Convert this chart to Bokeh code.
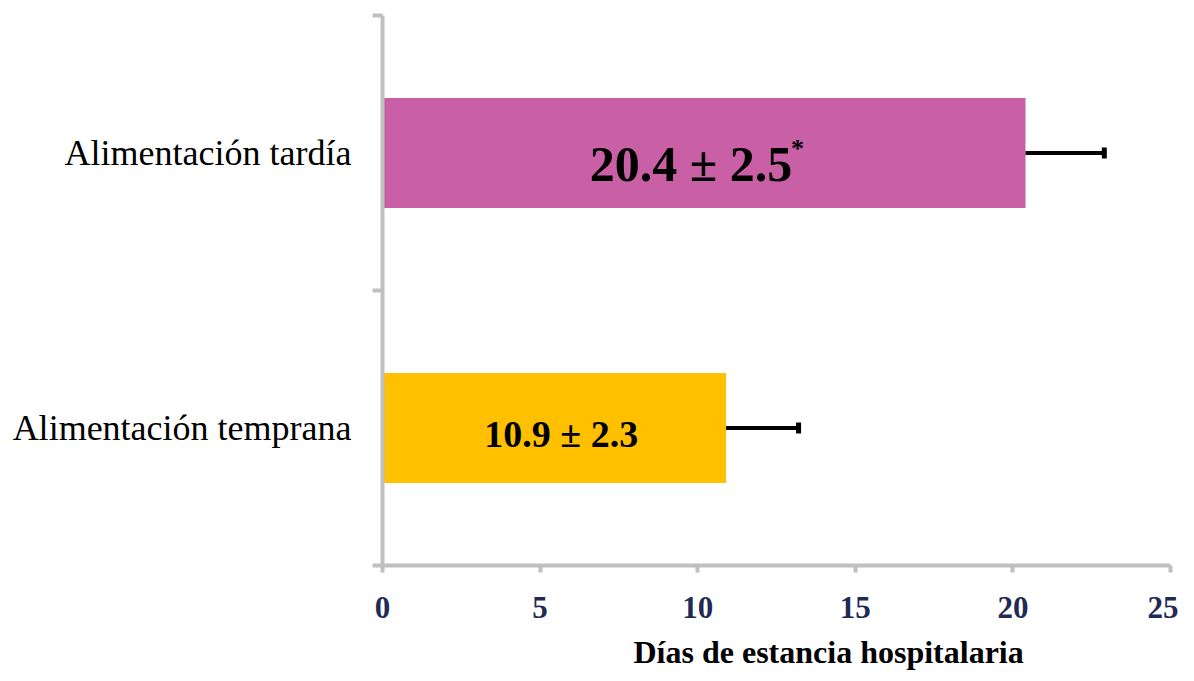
from bokeh.plotting import figure
from bokeh.models import Range1d, FixedTicker, Title, ColumnDataSource
from bokeh.core.properties import value
from bokeh.embed import file_html
from bokeh.resources import INLINE

# ---- data ----
categories = ["Alimentación temprana", "Alimentación tardía"]
means = [10.9, 20.4]
sds = [2.3, 2.5]
marks = ["", "*"]
x_ticks = [0, 5, 10, 15, 20, 25]
x_title = "Días de estancia hospitalaria"

# ---- styles ----
colors = ["#FFC000", "#C95FA5"]
label_sizes = ["38px", "50px"]
label_xoff = [7, -13]
label_yoff = [6, 11]
SERIF = "Liberation Serif"
GRAY = "#C0C0C0"

pos = [i + 0.5 for i in range(len(categories))]
src = ColumnDataSource(dict(
    y=pos, mean=means, sd=sds, end=[m + s for m, s in zip(means, sds)],
    mid=[m / 2 for m in means], color=colors,
    txt=[f"{m} ± {s}" for m, s in zip(means, sds)], mark=marks,
    size=label_sizes, xoff=label_xoff, yoff=label_yoff,
    cap0=[p - 0.02 for p in pos], cap1=[p + 0.02 for p in pos],
))

p = figure(width=1178, height=680, output_backend="svg", toolbar_location=None,
           x_range=Range1d(0, 25), y_range=Range1d(0, len(categories)),
           min_border_left=382, min_border_right=8, min_border_top=15,
           min_border_bottom=115)
p.outline_line_color = None
p.xgrid.visible = False
p.ygrid.visible = False

p.hbar(y="y", left=0, right="mean", height=0.4, color="color", source=src,
       line_color=None)
p.segment(x0="mean", y0="y", x1="end", y1="y", line_color="black",
          line_width=4, source=src)
p.segment(x0="end", y0="cap0", x1="end", y1="cap1", line_color="black",
          line_width=5, source=src)

p.text(x="mid", y="y", text="txt", text_font=value(SERIF), text_font_style="bold",
       text_font_size="size", text_align="center", text_baseline="middle",
       x_offset="xoff", y_offset="yoff", text_color="black", source=src)
p.text(x="mid", y="y", text="mark", text_font=value(SERIF), text_font_style="bold",
       text_font_size="26px", text_align="left", text_baseline="middle",
       x_offset=87, y_offset=-5, text_color="black", source=src)

# x axis
xa = p.xaxis[0]
xa.ticker = FixedTicker(ticks=x_ticks)
xa.axis_line_color = GRAY
xa.axis_line_width = 4
xa.major_tick_line_color = GRAY
xa.major_tick_line_width = 4
xa.major_tick_out = 7
xa.major_tick_in = 0
xa.minor_tick_line_color = None
xa.major_label_text_font = SERIF
xa.major_label_text_font_style = "bold"
xa.major_label_text_font_size = "31px"
xa.major_label_text_color = "#1F2A55"
xa.major_label_standoff = 24

# y axis
ya = p.yaxis[0]
ya.ticker = FixedTicker(ticks=pos, minor_ticks=list(range(len(categories) + 1)))
ya.major_label_overrides = {v: c for v, c in zip(pos, categories)}
ya.axis_line_color = GRAY
ya.axis_line_width = 4
ya.major_tick_line_color = None
ya.major_tick_out = 0
ya.major_tick_in = 0
ya.minor_tick_line_color = GRAY
ya.minor_tick_line_width = 4
ya.minor_tick_out = 10
ya.minor_tick_in = 0
ya.major_label_text_font = SERIF
ya.major_label_text_font_size = "36px"
ya.major_label_text_color = "black"
ya.major_label_standoff = 21

p.add_layout(Title(text=x_title, align="left", offset=251, text_font=SERIF,
                   text_font_style="bold", text_font_size="32px",
                   text_color="black", standoff=22), "below")

open("out.html", "w").write(file_html(p, INLINE))
